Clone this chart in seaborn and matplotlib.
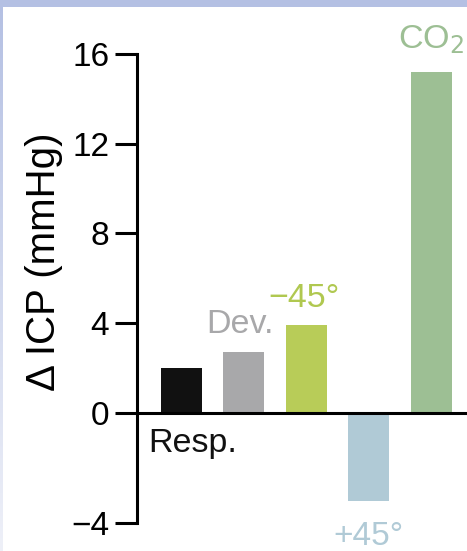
import numpy as np
import pandas as pd
import matplotlib
matplotlib.use("Agg")
import matplotlib.pyplot as plt
from matplotlib.patches import Rectangle
from matplotlib.colors import LinearSegmentedColormap
import seaborn as sns

# ---- data -------------------------------------------------------------
conditions = ["Resp.", "Dev.", "−45°", "+45°", "CO₂"]
delta_icp = [2.0, 2.7, 3.9, -3.2, 15.2]
bar_colors = ["#111111", "#a8a8aa", "#b8cc58", "#b0cad6", "#9dbf94"]
label_colors = ["#111111", "#a8a8aa", "#b0c850", "#b0cad6", "#9dbf94"]
ytick_values = [-4, 0, 4, 8, 12, 16]
ytick_labels = ["−4", "0", "4", "8", "12", "16"]

# negative values are drawn on a slightly stretched scale
NEG_STRETCH = 1.2256


def fwd(y):
    y = np.asarray(y, dtype=float)
    return np.where(y < 0, y * NEG_STRETCH, y)


def inv(y):
    y = np.asarray(y, dtype=float)
    return np.where(y < 0, y / NEG_STRETCH, y)


sns.set_theme(style="white")
plt.rcParams["font.family"] = ["Liberation Sans", "DejaVu Sans"]

W, H = 467, 551
fig = plt.figure(figsize=(W / 100, H / 100), dpi=100)
fig.patch.set_facecolor("white")

# slide frame: lavender band on top and a fading strip on the left
grad_ax = fig.add_axes([0, 0, 3 / W, 1])
grad = np.linspace(0, 1, 256).reshape(-1, 1)
cmap = LinearSegmentedColormap.from_list("frame", ["#eef0f8", "#b4c0e3"])
grad_ax.imshow(grad, aspect="auto", cmap=cmap, origin="lower", extent=[0, 1, 0, 1])
grad_ax.set_axis_off()
fig.patches.append(Rectangle((0, 1 - 7 / H), 1, 7 / H, transform=fig.transFigure,
                             facecolor="#b4c0e3", edgecolor="none", zorder=0))

# axes placement in pixels
ax_left, ax_right = 137, 467
ax_top, ax_bottom = 31.5, 550.5
ax = fig.add_axes([ax_left / W, (H - ax_bottom) / H,
                   (ax_right - ax_left) / W, (ax_bottom - ax_top) / H])
ax.set_facecolor("none")

df = pd.DataFrame({"condition": conditions, "icp": delta_icp})
sns.barplot(data=df, x="condition", y="icp", hue="condition",
            palette=bar_colors, width=0.66, saturation=1, legend=False,
            edgecolor="none", ax=ax, zorder=2)

ax.set_yscale("function", functions=(fwd, inv))
ax.set_ylim(-5.0, 17.0)
ax.set_xlim(-0.713, 4.575)

# axes styling
lw = 2.2
for side in ["top", "right"]:
    ax.spines[side].set_visible(False)
ax.spines["left"].set_linewidth(lw)
ax.spines["left"].set_color("black")
ax.spines["left"].set_bounds(-4, 16)
ax.spines["bottom"].set_position(("data", 0))
ax.spines["bottom"].set_linewidth(lw)
ax.spines["bottom"].set_color("black")
ax.spines["bottom"].set_zorder(3)
ax.spines["left"].set_zorder(3)

ax.set_yticks(ytick_values)
ax.set_yticklabels(ytick_labels)
ax.yaxis.set_minor_locator(matplotlib.ticker.NullLocator())
ax.tick_params(axis="y", which="major", direction="out", length=16,
               width=lw, color="black", pad=4.0, labelsize=24,
               labelcolor="black", left=True)
ax.set_xticks([])
ax.set_xlabel("")

ax.set_ylabel("Δ ICP (mmHg)", fontsize=29, color="black")
ax.yaxis.label.set_va("center")
ax.yaxis.set_label_coords(-0.282, 0.556)

# condition names beside each bar
ax.text(-0.54, -1.42, conditions[0], fontsize=24.5, color=label_colors[0],
        ha="left", va="baseline")
ax.text(0.93, 3.57, conditions[1], fontsize=24.5, color=label_colors[1],
        ha="center", va="baseline")
ax.text(1.96, 4.72, conditions[2], fontsize=24.5, color=label_colors[2],
        ha="center", va="baseline")
ax.text(2.99, -4.80, conditions[3], fontsize=24, color=label_colors[3],
        ha="center", va="baseline", clip_on=False)
ax.text(4.0, 16.27, "CO$_2$", fontsize=24.5, color=label_colors[4],
        ha="center", va="baseline", clip_on=False)

fig.savefig("out.png", dpi=100, facecolor="white")
